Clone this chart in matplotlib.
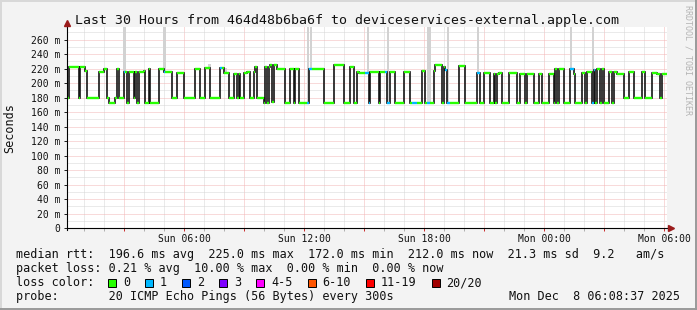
import matplotlib

matplotlib.use("Agg")

import matplotlib.pyplot as plt
import numpy as np
from matplotlib.lines import Line2D
from matplotlib.patches import Rectangle
from matplotlib.ticker import FuncFormatter, MultipleLocator

W, H = 697, 310
MONO = "DejaVu Sans Mono"

# ventana: Sun 00:08:37 -> Mon 06:08:37, muestras de 5 min
t_start = 8 / 60 + 37 / 3600
step_h = 5 / 60

# mediana rtt en tramos (nro de muestras, ms, perdida 0/1)
seg_len = [
    1, 6, 1, 3, 1, 7, 3, 2, 1, 4, 1, 1, 3, 1, 1,
    1, 3, 1, 1, 1, 3, 1, 2, 1, 5, 3, 1, 4, 3, 4, 7, 3, 3, 3, 6, 1, 1,
    3, 3, 2, 1, 1, 2, 2, 2, 2, 1, 1, 4, 1, 1, 1, 1, 1, 1, 2, 5, 3, 2, 1, 2, 5, 1, 2, 7,
    6, 6, 4, 2, 2, 1, 4, 2, 1, 5, 1, 3, 1, 2, 3, 5, 4, 1, 3, 3, 2, 1, 2, 2, 1, 4, 1, 1, 1, 2, 5,
    4, 7, 2, 2, 4, 2, 1, 1, 1, 2, 4, 5, 2, 3, 1, 1, 3, 3, 2, 4, 3, 1, 1, 1, 3, 4,
    2, 1, 4, 2, 1, 3, 1, 1, 1, 2, 1, 1, 3, 2, 1, 2, 4, 3, 3, 5, 2, 4, 3, 2, 1, 3,
]
seg_ms = [
    180, 221.7, 180, 221.7, 217, 180, 216, 220, 180, 172, 180, 219, 180, 216, 216,
    172, 215, 180, 216, 172, 215, 217, 172, 219, 172, 219, 216, 216, 180, 214, 180, 220, 180, 221, 180, 221, 221,
    214, 180, 213, 180, 213, 180, 214, 216, 180, 216, 223, 180, 172, 223, 172, 223, 225, 174, 225, 220, 172, 220,
    172, 219, 172, 172, 220, 220,
    172, 224.5, 172, 223, 172, 216, 214, 214, 172, 215, 172, 215, 215, 172, 215, 172, 215, 172, 172, 172, 217,
    172, 172, 172, 217, 224.8, 172, 223, 218, 172, 172,
    224, 172, 214, 172, 214, 172, 213, 172, 213, 214, 172, 214, 172, 213, 172, 212, 213, 172, 212, 172, 213,
    172, 220, 172, 220, 172,
    220, 213, 173, 214, 172, 215, 172, 218, 172, 219, 172, 219, 172, 216, 172, 216, 213, 180, 216, 180, 215,
    180, 214, 212.5, 180, 212,
]
seg_loss = (
    [0] * 13 + [1, 0]
    + [0] * 11 + [1] + [0] * 8 + [1, 0]
    + [0] * 25 + [1, 1, 0]
    + [0, 0, 0, 0, 0, 0, 0, 1, 1, 0, 0, 0, 1, 1, 0, 0, 0, 0, 1, 0, 0, 0, 1, 0, 0, 0, 0, 0, 1, 1, 0]
    + [0, 0, 1] + [0] * 23
    + [1, 0, 0, 0, 0, 0, 1, 1] + [0] * 18
)

# humo (pings altos) sobre algunas muestras
smoke_idx = [34, 58, 85, 95, 144, 146, 180, 192, 216, 217, 228, 246, 302, 315]
smoke_top = [300, 300, 226, 221, 300, 300, 300, 300, 300, 300, 300, 300, 300, 300]

y_ticks = list(range(0, 261, 20))

loss_labels = ["0", "1", "2", "3", "4-5", "6-10", "11-19", "20/20"]
loss_colors = ["#26ff00", "#00b8ff", "#0059ff", "#7e00ff",
               "#ff00ff", "#ff5500", "#ff0000", "#a10000"]

title = "Last 30 Hours from 464d48b6ba6f to deviceservices-external.apple.com"
line_rtt = ("median rtt:  196.6 ms avg  225.0 ms max  172.0 ms min  "
            "212.0 ms now  21.3 ms sd  9.2   am/s")
line_loss = "packet loss: 0.21 % avg  10.00 % max  0.00 % min  0.00 % now"
line_probe = "probe:       20 ICMP Echo Pings (56 Bytes) every 300s"
stamp = "Mon Dec  8 06:08:37 2025"


def fx(x):
    return x / W


def fy(y):
    return 1 - y / H


fig = plt.figure(figsize=(W / 100, H / 100), dpi=100)
fig.patch.set_facecolor("#f3f3f3")

ax = fig.add_axes([fx(67), fy(228), 600 / W, 201 / H])
ax.set_facecolor("white")
ax.set_xlim(t_start, t_start + 30)
ax.set_ylim(0, 201 / 0.7242)
for s in ax.spines.values():
    s.set_visible(False)

# rejilla punteada
ax.xaxis.set_major_locator(MultipleLocator(3))
ax.xaxis.set_minor_locator(MultipleLocator(1))
ax.yaxis.set_major_locator(MultipleLocator(20))
ax.yaxis.set_minor_locator(MultipleLocator(10))
ax.set_axisbelow(True)
ax.grid(which="major", color="#f3b6b6", linestyle=(0, (1, 1)), linewidth=0.72)
ax.grid(which="minor", color="#d6d6d6", linestyle=(0, (1, 1)), linewidth=0.72)


def xfmt(v, pos):
    h = int(round(v))
    if h % 6:
        return ""
    day = "Sun" if h < 24 else "Mon"
    return f"{day} {h % 24:02d}:00"


def yfmt(v, pos):
    v = int(round(v))
    if v not in y_ticks:
        return ""
    return "0" if v == 0 else f"{v} m"


ax.xaxis.set_major_formatter(FuncFormatter(xfmt))
ax.yaxis.set_major_formatter(FuncFormatter(yfmt))
ax.tick_params(axis="x", which="major", color="#cc3030", length=2, width=0.72,
               labelsize=7, pad=2.2, labelcolor="#111111")
ax.tick_params(axis="x", which="minor", color="#b0b0b0", length=2, width=0.72)
ax.tick_params(axis="y", which="major", color="#222222", length=2.5, width=0.72,
               labelsize=7, pad=2.5, labelcolor="#111111")
ax.tick_params(axis="y", which="minor", length=0)
for lab in ax.get_xticklabels() + ax.get_yticklabels():
    lab.set_family(MONO)

# datos
edges = t_start + step_h * np.concatenate([[0], np.cumsum(seg_len)])
per_sample = np.repeat(seg_ms, seg_len)
sx = t_start + (np.array(smoke_idx) + 0.5) * step_h
base = per_sample[smoke_idx]
ax.bar(sx, np.array(smoke_top) - base, bottom=base, width=step_h * 1.3,
       color="#d2d2d2", linewidth=0, zorder=2)
ax.stairs(seg_ms, edges, baseline=None, color="#151515", linewidth=1.2, zorder=3)
ax.hlines(seg_ms, edges[:-1], edges[1:],
          colors=[loss_colors[l] for l in seg_loss], linewidth=1.7,
          capstyle="butt", zorder=4)

# ejes con flechas
fig.add_artist(Line2D([fx(67), fx(671)], [fy(228), fy(228)], color="black", lw=0.8))
fig.add_artist(Line2D([fx(67), fx(67)], [fy(230), fy(23)], color="black", lw=0.8))
fig.add_artist(Line2D([fx(67)], [fy(23)], marker="^", markersize=4.5,
                      color="#9b1c1c", lw=0))
fig.add_artist(Line2D([fx(671)], [fy(228)], marker=">", markersize=4.5,
                      color="#9b1c1c", lw=0))

# textos
fig.text(fx(347), fy(24), title, ha="center", va="baseline", fontsize=9.5,
         family=MONO, color="#111111")
fig.text(fx(9.5), fy(128), "Seconds", rotation=90, ha="center", va="center",
         fontsize=8.5, family=MONO, color="#111111")
fig.text(fx(688), fy(60), "RRDTOOL / TOBI OETIKER", rotation=270, ha="center",
         va="center", fontsize=6, family=MONO, color="#b4b4b4")

fig.text(fx(16), fy(258), line_rtt, ha="left", va="baseline", fontsize=8.5,
         family=MONO, color="#111111")
fig.text(fx(16), fy(272), line_loss, ha="left", va="baseline", fontsize=8.5,
         family=MONO, color="#111111")
fig.text(fx(16), fy(286), "loss color:", ha="left", va="baseline", fontsize=8.5,
         family=MONO, color="#111111")
cursor = 108
for lab, col in zip(loss_labels, loss_colors):
    fig.add_artist(Rectangle((fx(cursor), fy(286.5)), 8 / W, 8 / H,
                             facecolor=col, edgecolor="black", lw=0.7,
                             transform=fig.transFigure))
    fig.text(fx(cursor + 15), fy(286), lab, ha="left", va="baseline",
             fontsize=8.5, family=MONO, color="#111111")
    cursor += 30 + 7.1 * len(lab)
fig.text(fx(16), fy(300), line_probe, ha="left", va="baseline", fontsize=8.5,
         family=MONO, color="#111111")
fig.text(fx(680), fy(300), stamp, ha="right", va="baseline", fontsize=8.5,
         family=MONO, color="#111111")

# marco 3D de rrdtool
fig.add_artist(Line2D([0, 1], [fy(0.8), fy(0.8)], color="#d8d8d8", lw=1.4))
fig.add_artist(Line2D([fx(0.8), fx(0.8)], [0, 1], color="#d8d8d8", lw=1.4))
fig.add_artist(Line2D([0, 1], [fy(309.2), fy(309.2)], color="#999999", lw=1.4))
fig.add_artist(Line2D([fx(696.2), fx(696.2)], [0, 1], color="#999999", lw=1.4))

fig.savefig("out.png", dpi=100, facecolor=fig.get_facecolor())
